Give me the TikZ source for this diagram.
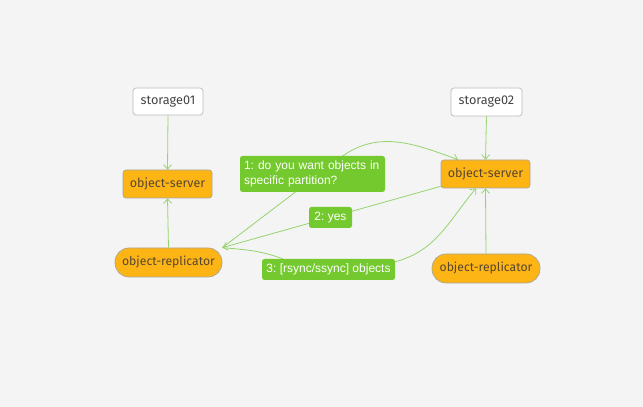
\documentclass[tikz,border=0pt]{standalone}
\usepackage{fontspec}
\setmainfont{Fira Sans}
\newfontfamily\labfont{Liberation Sans}
\usetikzlibrary{arrows.meta,calc,backgrounds}
\definecolor{bgc}{HTML}{F4F4F4}
\definecolor{orng}{HTML}{FDB515}
\definecolor{obord}{HTML}{AAA69A}
\definecolor{wbord}{HTML}{BBBBBB}
\definecolor{grn}{HTML}{73C92D}
\definecolor{lgrn}{HTML}{94D46E}
\definecolor{ntext}{HTML}{574630}
\definecolor{wtext}{HTML}{444444}
\frenchspacing
\begin{document}
\begin{tikzpicture}[x=1pt,y=1pt,
  hostbox/.style={draw=wbord,fill=white,rounded corners=3pt,line width=0.7pt,
    minimum width=70pt,minimum height=27pt,inner sep=0pt,text=wtext,font=\fontsize{12.7}{15}\selectfont},
  srvbox/.style={draw=obord,fill=orng,rounded corners=3pt,line width=0.7pt,
    minimum width=89pt,minimum height=28pt,inner sep=0pt,text=ntext,font=\fontsize{12.5}{15}\selectfont},
  repbox/.style={draw=obord,fill=orng,rounded corners=14pt,line width=0.7pt,
    minimum width=107pt,minimum height=29pt,inner sep=0pt,text=ntext,font=\fontsize{12.2}{15}\selectfont},
  labbox/.style={fill=grn,rounded corners=2.5pt,inner sep=0pt,text=white,
    font=\labfont\fontsize{12}{14.5}\selectfont},
  conn/.style={draw=lgrn,line width=0.8pt},
  arr/.style={conn,-{Straight Barb[length=4.5pt,width=8pt,line width=0.8pt]}}
]
\useasboundingbox (0,0) rectangle (643,407);

\node[hostbox] (st1) at (168,305.5) {storage01};
\node[srvbox] (srv1) at (167.5,223) {object-server};
\node[repbox] (rep1) at (168.5,144.5) {object-replicator};
\node[hostbox,minimum width=71pt,minimum height=28pt] (st2) at (486.5,305) {storage02};
\node[srvbox] (srv2) at (485.5,233) {object-server};
\node[repbox,minimum width=108pt] (rep2) at (486,138.5) {object-replicator};

\node[labbox,minimum width=145pt,minimum height=36pt,text width=137pt,align=left] (lab1) at (312.5,233)
  {1: do you want objects in\\specific partition?};
\node[labbox,minimum width=43pt,minimum height=21pt] (lab2) at (330.5,189.5) {2: yes};
\node[labbox,minimum width=133pt,minimum height=21pt] (lab3) at (328.5,137.5) {3: [rsync/ssync] objects};

\begin{scope}[on background layer]
\fill[bgc] (0,0) rectangle (643,407);
\draw[arr] (st1.south) -- (srv1.north);
\draw[arr] (rep1.north) -- (srv1.south);
\draw[arr] (st2.south) -- (srv2.north);
\draw[arr] (rep2.north) -- (srv2.south);
\draw[arr] (rep1.north east) -- ([xshift=30.5pt]lab1.north)
  to[out=35,in=160] ([xshift=-27.5pt]srv2.north);
\draw[arr] ([yshift=2pt]srv2.south west) -- (rep1.north east);
\draw[conn] (rep1.north east) to[out=-5,in=160] ([xshift=21pt]lab3.north west);
\draw[arr] ([yshift=-3pt]lab3.north east) to[out=15,in=-130] ([xshift=-9.5pt]srv2.south);
\end{scope}
\end{tikzpicture}
\end{document}
